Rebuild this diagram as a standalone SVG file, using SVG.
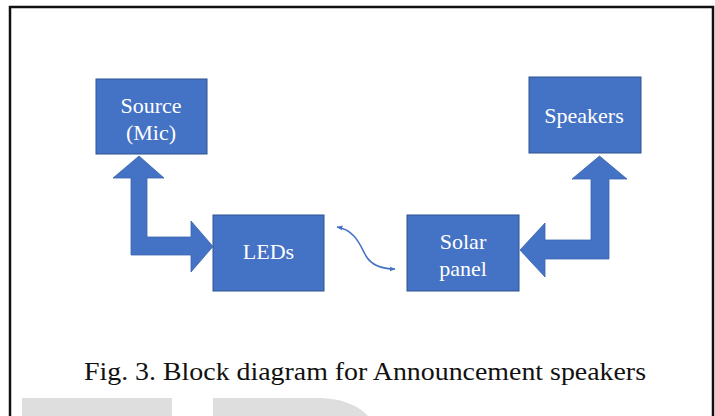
<svg xmlns="http://www.w3.org/2000/svg" width="715" height="416" viewBox="0 0 715 416">
<style>
.box{fill:#4472C4;stroke:#2F528F;stroke-width:1}
.lbl{font-family:"Liberation Serif","Times New Roman",serif;font-size:22px;fill:#ffffff;text-anchor:middle}
.big{fill:#4472C4;stroke:#3B64AE;stroke-width:0.8;stroke-linejoin:miter}
.cap{font-family:"Liberation Serif","Times New Roman",serif;font-size:26px;fill:#111111}
</style>
<defs>
<marker id="ah" viewBox="0 0 10 10" refX="9" refY="5" markerWidth="6" markerHeight="6" orient="auto-start-reverse" markerUnits="userSpaceOnUse">
<path d="M0,1 L10,5 L0,9 Z" fill="#4472C4"/>
</marker>
</defs>
<rect x="0" y="0" width="715" height="416" fill="#ffffff"/>
<path d="M10,416 L10,7 L713,7 L713,416" fill="none" stroke="#111111" stroke-width="2.5"/>
<g id="watermark" fill="#DEDEDE">
<rect x="22" y="398" width="150" height="18"/>
<path d="M213,398 L318,398 C343,398 360,407 368,416 L213,416 Z"/>
</g>
<g id="connectors">
<polygon class="big" points="139,156 164,178 147,178 147,237 191,237 191,221 213,246.5 191,272 191,255 131,255 131,178 113,178"/>
<polygon class="big" points="599.5,156 627,179 609,179 609,259 545,259 545,277 520,250 545,223 545,240 591,240 591,179 572,179"/>
<path d="M337,227 C355,230 360,245 366,256 C372,266 382,269 395,269" fill="none" stroke="#4472C4" stroke-width="1.5" marker-start="url(#ah)" marker-end="url(#ah)"/>
</g>
<g id="source">
<rect class="box" x="96" y="79" width="111" height="75"/>
<text class="lbl" x="151" y="113">Source</text>
<text class="lbl" x="151" y="140">(Mic)</text>
</g>
<g id="leds">
<rect class="box" x="213" y="215" width="111" height="76"/>
<text class="lbl" x="268.5" y="259">LEDs</text>
</g>
<g id="solar">
<rect class="box" x="407" y="215" width="112" height="76"/>
<text class="lbl" x="463" y="249">Solar</text>
<text class="lbl" x="463" y="276">panel</text>
</g>
<g id="speakers">
<rect class="box" x="529" y="77" width="112" height="76"/>
<text class="lbl" x="584" y="123">Speakers</text>
</g>
<text class="cap" x="84" y="380" textLength="562" lengthAdjust="spacingAndGlyphs">Fig. 3. Block diagram for Announcement speakers</text>
</svg>
